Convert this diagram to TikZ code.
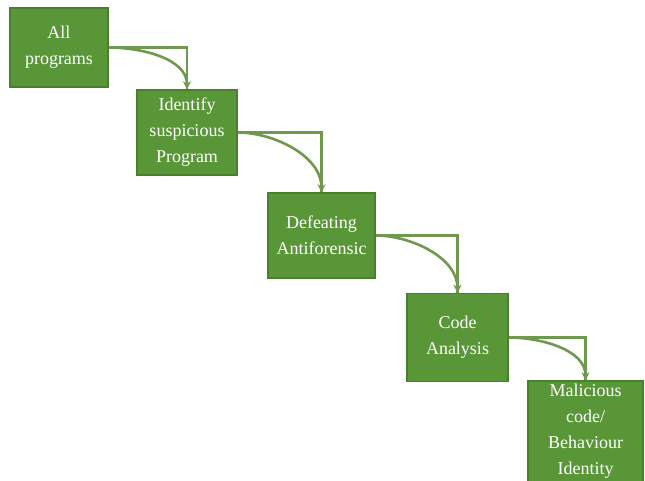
\documentclass[tikz,border=0pt]{standalone}
\usepackage{fontspec}
\setmainfont{Liberation Serif}
\usetikzlibrary{arrows.meta}
\definecolor{boxfill}{RGB}{88,150,56}
\definecolor{boxedge}{RGB}{74,128,44}
\definecolor{connc}{RGB}{112,152,78}
\tikzset{
  stepbox/.style={draw=boxedge, line width=1.5pt, fill=boxfill, text=white,
    align=center, inner sep=0pt, font=\fontsize{18}{26}\selectfont},
  elbow/.style={draw=connc, line width=2.4pt},
  curvearrow/.style={draw=connc, line width=2.6pt, -{Stealth[length=8pt,width=8pt]}}
}
\begin{document}
\begin{tikzpicture}[x=1pt,y=-1pt]
\useasboundingbox (0,0) rectangle (645,481);
\node[stepbox, minimum width=98pt, minimum height=79pt] (b1) at (59,47.5) {All\\programs};
\node[stepbox, minimum width=100pt, minimum height=85pt] (b2) at (187,132.5) {Identify\\suspicious\\Program};
\node[stepbox, minimum width=107pt, minimum height=85pt] (b3) at (321.5,235.5) {Defeating\\Antiforensic};
\node[stepbox, minimum width=101pt, minimum height=88pt] (b4) at (457.5,337.5) {Code\\Analysis};
\node[stepbox, minimum width=115pt, minimum height=101pt] (b5) at (585.5,431.5) {Malicious\\code/\\Behaviour\\Identity};
\foreach \a/\b in {b1/b2,b2/b3,b3/b4,b4/b5}{
  \draw[elbow] (\a.east) -| (\b.north);
  \draw[curvearrow] (\a.east) to[out=0,in=90,looseness=0.9] (\b.north);
}
\end{tikzpicture}
\end{document}
